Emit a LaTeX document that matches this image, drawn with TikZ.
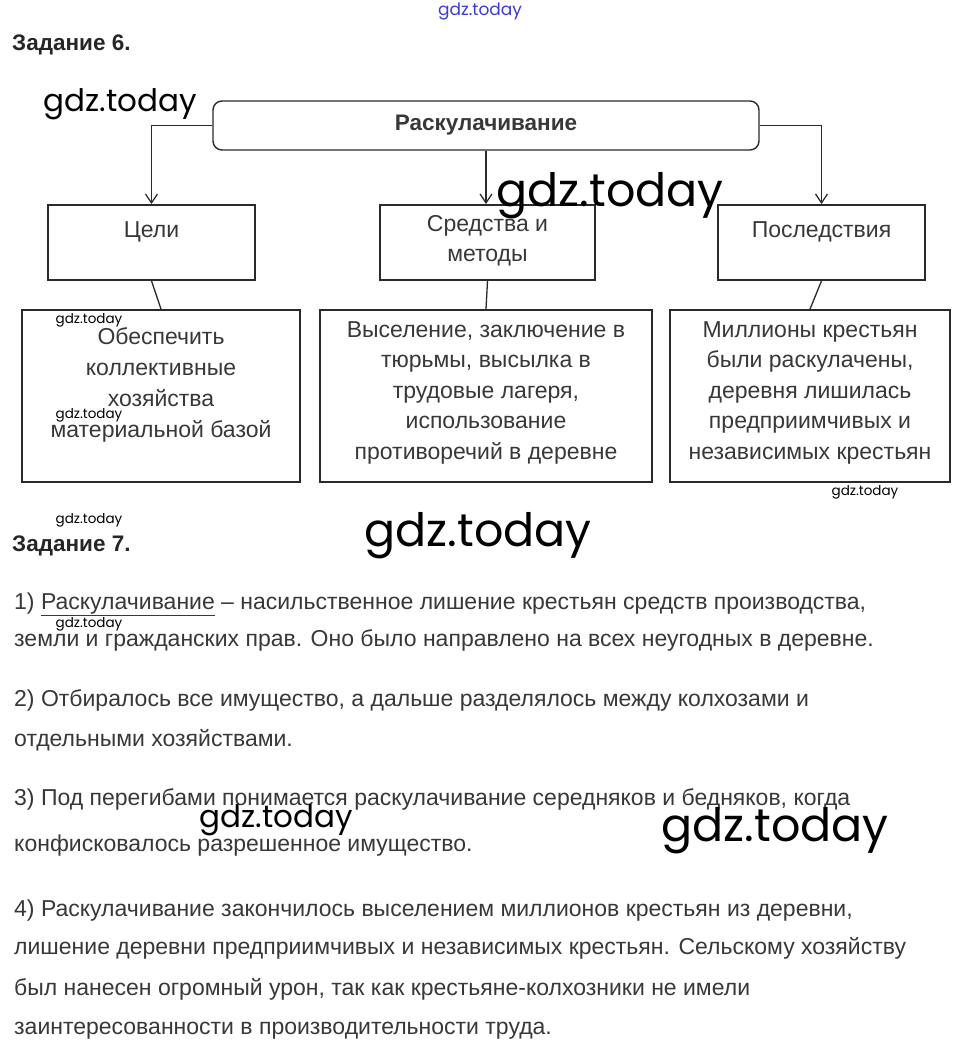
\documentclass[tikz,border=0pt]{standalone}
\usepackage{fontspec}
\setmainfont{Liberation Sans}
\newfontfamily\wmfont{Poppins}
\usetikzlibrary{arrows.meta}
\definecolor{txt}{HTML}{383838}
\definecolor{ln}{HTML}{2A2A2A}
\definecolor{wmblue}{HTML}{3A3AE0}
\begin{document}
\begin{tikzpicture}[x=1pt,y=-1pt,
  box/.style={draw=ln,line width=1.8pt,rectangle,minimum height=#1,inner sep=0pt},
  boxtext/.style={text=txt,font=\fontsize{23}{30.5}\selectfont,align=center,inner sep=0pt},
  para/.style={anchor=base west,text=txt,font=\fontsize{23}{26}\selectfont,inner sep=0pt},
  head/.style={anchor=base west,text=black!85,font=\bfseries\fontsize{22.5}{26}\selectfont,inner sep=0pt},
  conn/.style={draw=ln,line width=1.3pt},
  arr/.style={conn,-{Straight Barb[length=9pt,width=12pt,line width=1.3pt]}},
  wm/.style={font=\wmfont\fontsize{#1}{#1}\selectfont,text=black,inner sep=0pt}
]
\useasboundingbox (0,0) rectangle (958,1051);
\fill[white] (0,0) rectangle (958,1051);

% headings
\node[head] (h6) at (12,51) {Задание 6.};
\node[head] (h7) at (12,551) {Задание 7.};

% top box
\node[draw=ln,line width=1.4pt,rounded corners=9pt,minimum width=546pt,minimum height=49pt,inner sep=0pt,
      font=\bfseries\fontsize{22.5}{26}\selectfont,text=txt] (top) at (486,125.5) {Раскулачивание};

% middle boxes
\node[box=75pt,minimum width=207pt] (c1) at (151.5,242.5) {};
\node[box=75pt,minimum width=215pt] (c2) at (487.5,242.5) {};
\node[box=75pt,minimum width=207pt] (c3) at (821.5,242.5) {};
\node[boxtext] (t1) at (151.5,232) {Цели};
\node[boxtext] (t2) at (487.5,241) {Средства и\\методы};
\node[boxtext] (t3) at (821.5,232) {Последствия};

% bottom boxes
\node[box=172pt,minimum width=278pt] (d1) at (161,396) {};
\node[box=172pt,minimum width=332pt] (d2) at (486,396) {};
\node[box=172pt,minimum width=280pt] (d3) at (810,396) {};
\node[boxtext,font=\fontsize{23}{31}\selectfont] (u1) at (161,385) {Обеспечить\\коллективные\\хозяйства\\материальной базой};
\node[boxtext] (u2) at (486,392.5) {Выселение, заключение в\\тюрьмы, высылка в\\трудовые лагеря,\\использование\\противоречий в деревне};
\node[boxtext] (u3) at (810,392.5) {Миллионы крестьян\\были раскулачены,\\деревня лишилась\\предприимчивых и\\независимых крестьян};

% connectors
\draw[arr] (top.west) -| (c1.north);
\draw[arr] (top.south) -- (top.south |- c2.north);
\draw[arr] (top.east) -| (c3.north);
\draw[conn] (c1.south) -- (d1.north);
\draw[conn] (c2.south) -- (d2.north);
\draw[conn] (c3.south) -- (d3.north);

% paragraphs
\node[para] (p1a) at (14,609) {1) \underline{Раскулачивание} – насильственное лишение крестьян средств производства,};
\node[para] (p1b) at (14,646) {земли и гражданских прав. Оно было направлено на всех неугодных в деревне.};
\node[para] (p2a) at (14,706) {2) Отбиралось все имущество, а дальше разделялось между колхозами и};
\node[para] (p2b) at (14,746) {отдельными хозяйствами.};
\node[para] (p3a) at (14,805) {3) Под перегибами понимается раскулачивание середняков и бедняков, когда};
\node[para] (p3b) at (14,851) {конфисковалось разрешенное имущество.};
\node[para] (p4a) at (14,916) {4) Раскулачивание закончилось выселением миллионов крестьян из деревни,};
\node[para] (p4b) at (14,954) {лишение деревни предприимчивых и независимых крестьян. Сельскому хозяйству};
\node[para] (p4c) at (14,995) {был нанесен огромный урон, так как крестьяне-колхозники не имели};
\node[para] (p4d) at (14,1034) {заинтересованности в производительности труда.};

% watermarks
\node[wm=17,text=wmblue] (w0) at (480,12) {gdz.today};
\node[wm=31] (w1) at (120,104) {gdz.today};
\node[wm=46] (w2) at (610,196) {gdz.today};
\node[wm=13.5] (w3) at (89,320) {gdz.today};
\node[wm=13.5] (w4) at (89,415) {gdz.today};
\node[wm=13.5] (w5) at (865,492) {gdz.today};
\node[wm=13.5] (w6) at (89,520) {gdz.today};
\node[wm=46] (w7) at (478,536) {gdz.today};
\node[wm=13.5] (w8) at (89,624) {gdz.today};
\node[wm=31] (w9) at (276,820) {gdz.today};
\node[wm=46] (w10) at (775,831) {gdz.today};
\end{tikzpicture}
\end{document}
